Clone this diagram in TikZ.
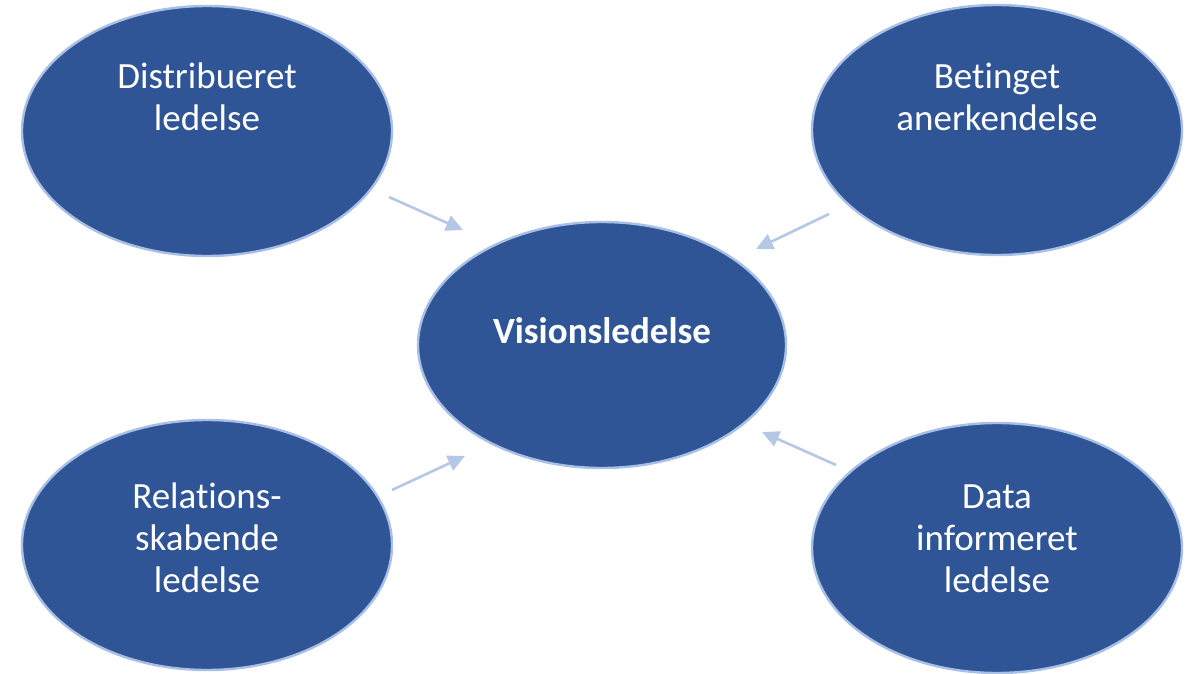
\documentclass[tikz,border=0pt]{standalone}
\usepackage{fontspec}
\setmainfont[Ligatures=NoCommon]{Carlito}
\usetikzlibrary{shapes.geometric,arrows.meta}
\definecolor{ellfill}{HTML}{2F5597}
\definecolor{ellline}{HTML}{A9C0E6}
\definecolor{arrcol}{HTML}{B4C7E7}
\tikzset{
  bubble/.style={ellipse, draw=ellline, line width=2.4pt, fill=ellfill,
    minimum width=370pt, minimum height=250pt, inner sep=0pt},
  bubbletext/.style={text=white, align=center, anchor=base, inner sep=0pt,
    font=\fontsize{37}{42}\selectfont},
  conn/.style={draw=arrcol, line width=2.6pt,
    -{Triangle[length=17pt,width=16pt]}}
}
\begin{document}
\begin{tikzpicture}[x=1pt,y=-1pt]
\useasboundingbox (0,0) rectangle (1193,674);
\node[bubble] (tl) at (207,131) {};
\node[bubble] (tr) at (997,130) {};
\node[bubble, minimum width=368pt, minimum height=246pt] (c) at (602,345) {};
\node[bubble] (bl) at (207,545) {};
\node[bubble] (br) at (997,548) {};

\node[bubbletext] (tltext) at (207,130.5) {Distribueret\\ledelse};
\node[bubbletext] (trtext) at (997,130.5) {Betinget\\anerkendelse};
\node[bubbletext, font=\fontsize{37}{42}\selectfont\bfseries] (ctext) at (602,343) {Visionsledelse};
\node[bubbletext] (bltext) at (207,592) {Relations-\\skabende\\ledelse};
\node[bubbletext] (brtext) at (997,592) {Data\\informeret\\ledelse};

\coordinate (a1s) at (389,197); \coordinate (a1e) at (463,230);
\coordinate (a2s) at (829,214); \coordinate (a2e) at (756,249);
\coordinate (a3s) at (392,490); \coordinate (a3e) at (465,456);
\coordinate (a4s) at (836,465); \coordinate (a4e) at (762,432);
\draw[conn] (a1s) -- (a1e);
\draw[conn] (a2s) -- (a2e);
\draw[conn] (a3s) -- (a3e);
\draw[conn] (a4s) -- (a4e);
\end{tikzpicture}
\end{document}
